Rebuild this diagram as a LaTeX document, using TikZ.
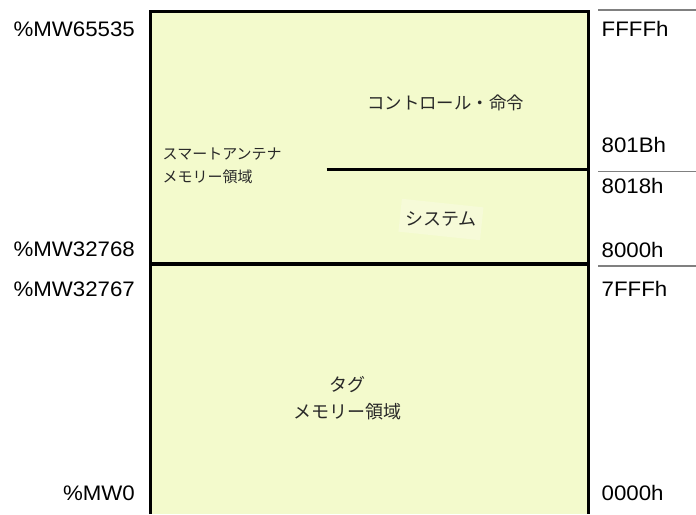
\documentclass[tikz,border=0pt]{standalone}
\usepackage{fontspec}
\setmainfont{Liberation Sans}[FakeStretch=1.06]
\newfontfamily\jp{Noto Sans CJK JP}
\definecolor{memfill}{RGB}{243,250,204}
\definecolor{patch}{RGB}{246,250,216}
\definecolor{rule}{RGB}{128,128,128}
\definecolor{jptext}{RGB}{40,40,40}
\tikzset{
  addrL/.style={anchor=base east, inner sep=0pt, font=\fontsize{21}{21}\selectfont},
  addrR/.style={anchor=base west, inner sep=0pt, font=\fontsize{21}{21}\selectfont},
  jplabel/.style={inner sep=0pt, text=jptext, align=center},
  boxline/.style={line width=3pt, black},
  graylines/.style={line width=1.5pt, rule}
}
\begin{document}
\begin{tikzpicture}[x=1pt,y=-1pt]
\useasboundingbox (0,0) rectangle (696,514);
% memory box
\fill[memfill] (150,11.5) rectangle (588.3,514);
% faint patch behind system label
\fill[patch, rotate around={-6:(441,219)}] (400,203) rectangle (482,236);
\draw[boxline] (150,514) -- (150,11.5) -- (588.3,11.5) -- (588.3,514);
\draw[boxline, line width=3.5pt] (150,264) -- (588.3,264);
\draw[boxline] (326.7,169.8) -- (588.3,169.8);
% right rules
\draw[graylines] (598,10) -- (696,10);
\draw[graylines] (598,171.5) -- (696,171.5);
\draw[graylines] (598,266) -- (696,266);
% left labels
\node[addrL] (l65535) at (135,36) {\%MW65535};
\node[addrL] (l32768) at (135,256) {\%MW32768};
\node[addrL] (l32767) at (135,296) {\%MW32767};
\node[addrL] (l0) at (135,500) {\%MW0};
% right labels
\node[addrR] (rFFFF) at (601.5,36) {FFFFh};
\node[addrR] (r801B) at (601.5,152) {801Bh};
\node[addrR] (r8018) at (601.5,193) {8018h};
\node[addrR] (r8000) at (601.5,257) {8000h};
\node[addrR] (r7FFF) at (601.5,296) {7FFFh};
\node[addrR] (r0000) at (601.5,500) {0000h};
% japanese labels
\node[jplabel, anchor=west, align=left, font=\jp\fontsize{15}{23}\selectfont] (sa) at (162.5,165.5) {スマートアンテナ\\メモリー領域};
\node[jplabel, font=\jp\fontsize{17.4}{20}\selectfont] (ctl) at (445.5,103) {コントロール・命令};
\node[jplabel, font=\jp\fontsize{18}{20}\selectfont] (sys) at (441,219) {システム};
\node[jplabel, font=\jp\fontsize{18}{27}\selectfont] (tag) at (347.5,398.5) {タグ\\メモリー領域};
\end{tikzpicture}
\end{document}
